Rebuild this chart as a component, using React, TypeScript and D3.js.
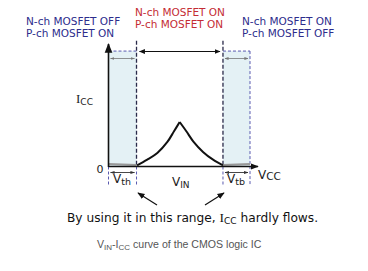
import React from "react";
import * as d3 from "d3";

// V_IN (fraction of Vcc) and Icc (relative)
const vinValues = [0.202, 0.274, 0.345, 0.416, 0.463, 0.503];
const iccRising = [0.01, 0.056, 0.111, 0.202, 0.29, 0.366];
const vinFalling = [0.503, 0.55, 0.6, 0.668, 0.739, 0.809];
const iccFalling = [0.366, 0.29, 0.205, 0.12, 0.056, 0.01];
// off-state leakage (tiny) inside the shaded ranges
const leakLeftX = [0, 0.198];
const leakLeftY = [0.02, 0.012];
const leakRightX = [0.809, 1];
const leakRightY = [0.012, 0.02];
// region boundaries (fraction of Vcc)
const vthLow = 0.198;
const vthHigh = 0.809;
const vcc = 1;
const boxTop = 0.95;
const dividerTop = 1.035;

const topLabels = [
  { lines: ["N-ch MOSFET OFF", "P-ch MOSFET ON"], x: 26, y: 25, color: "#2d2d8c" },
  { lines: ["N-ch MOSFET ON", "P-ch MOSFET ON"], x: 135, y: 16, color: "#c42c34" },
  { lines: ["N-ch MOSFET ON", "P-ch MOSFET OFF"], x: 242, y: 25, color: "#2d2d8c" },
];

export default function App() {
  const W = 368;
  const H = 271;
  const x = d3.scaleLinear().domain([0, 1]).range([108.5, 250]);
  const y = d3.scaleLinear().domain([0, 1]).range([166.5, 45]);
  const line = d3
    .line<[number, number]>()
    .x((d) => x(d[0]))
    .y((d) => y(d[1]))
    .curve(d3.curveCatmullRom.alpha(0.5));
  const rising = line(vinValues.map((v, i) => [v, iccRising[i]]) as [number, number][]);
  const falling = line(vinFalling.map((v, i) => [v, iccFalling[i]]) as [number, number][]);
  const lin = d3
    .line<[number, number]>()
    .x((d) => x(d[0]))
    .y((d) => y(d[1]));
  const leakL = lin(leakLeftX.map((v, i) => [v, leakLeftY[i]]) as [number, number][]);
  const leakR = lin(leakRightX.map((v, i) => [v, leakRightY[i]]) as [number, number][]);

  const x0 = x(0);
  const xl = x(vthLow);
  const xh = x(vthHigh);
  const xv = x(vcc);
  const yb = y(0);
  const yt = y(boxTop);
  const ydiv = y(dividerTop);
  const belowY = 186;
  const sans = "DejaVu Sans, Verdana, sans-serif";
  const blueDash = "#5a5ab0";
  const darkDash = "#2a2a4a";

  return (
    <svg
      width={W}
      height={H}
      style={{ position: "absolute", left: 0, top: 0, background: "#fff" }}
    >
      <defs>
        <marker id="ah" viewBox="0 0 10 10" refX="9" refY="5" markerWidth="6" markerHeight="6" orient="auto-start-reverse">
          <path d="M0,1 L10,5 L0,9 z" fill="#111" />
        </marker>
        <marker id="ahs" viewBox="0 0 10 10" refX="9" refY="5" markerWidth="5" markerHeight="5" orient="auto-start-reverse">
          <path d="M0,1.5 L10,5 L0,8.5 z" fill="#333" />
        </marker>
        <marker id="ahg" viewBox="0 0 10 10" refX="9" refY="5" markerWidth="5" markerHeight="5" orient="auto-start-reverse">
          <path d="M0,1.5 L10,5 L0,8.5 z" fill="#777" />
        </marker>
      </defs>
      <rect x={0} y={0} width={W} height={H} fill="#fff" />

      {/* shaded ranges */}
      <rect x={x0} y={yt} width={xl - x0} height={yb - yt} fill="#e4f1f5" />
      <rect x={xh} y={yt} width={xv - xh} height={yb - yt} fill="#e4f1f5" />

      {/* box top dashes */}
      <line x1={x0} y1={yt} x2={xl} y2={yt} stroke={blueDash} strokeWidth={1} strokeDasharray="3,2" />
      <line x1={xh} y1={yt} x2={xv} y2={yt} stroke={blueDash} strokeWidth={1} strokeDasharray="3,2" />
      <line x1={xv} y1={yt} x2={xv} y2={belowY} stroke={blueDash} strokeWidth={1} strokeDasharray="3,2" />

      {/* dividers */}
      <line x1={xl} y1={ydiv} x2={xl} y2={yb} stroke={darkDash} strokeWidth={1.3} strokeDasharray="4,2" />
      <line x1={xh} y1={ydiv} x2={xh} y2={yb} stroke={darkDash} strokeWidth={1.3} strokeDasharray="4,2" />

      {/* below-axis dashed ticks */}
      {[x0, xl, xh].map((px, i) => (
        <line key={i} x1={px} y1={yb} x2={px} y2={belowY} stroke={blueDash} strokeWidth={1} strokeDasharray="3,2" />
      ))}

      {/* small grey arrows in boxes */}
      <line x1={x0 + 2} y1={58.5} x2={xl - 2} y2={58.5} stroke="#777" strokeWidth={0.8} markerStart="url(#ahg)" markerEnd="url(#ahg)" />
      <line x1={xh + 2} y1={58.5} x2={xv - 2} y2={58.5} stroke="#777" strokeWidth={0.8} markerStart="url(#ahg)" markerEnd="url(#ahg)" />

      {/* top black arrow */}
      <line x1={xl + 3} y1={51.5} x2={xh - 3} y2={51.5} stroke="#111" strokeWidth={1} markerStart="url(#ah)" markerEnd="url(#ah)" />

      {/* leakage */}
      <path d={leakL || ""} fill="none" stroke="#999" strokeWidth={2} />
      <path d={leakR || ""} fill="none" stroke="#999" strokeWidth={2} />

      {/* axes */}
      <line x1={x0} y1={yb} x2={258} y2={yb} stroke="#111" strokeWidth={1.3} markerEnd="url(#ah)" />
      <line x1={x0} y1={yb + 0.5} x2={x0} y2={44} stroke="#111" strokeWidth={1.6} markerEnd="url(#ah)" />

      {/* curve */}
      <path d={rising || ""} fill="none" stroke="#111" strokeWidth={2} />
      <path d={falling || ""} fill="none" stroke="#111" strokeWidth={2} />

      {/* Vth arrows below axis */}
      <line x1={x0 + 2} y1={172.5} x2={xl - 2} y2={172.5} stroke="#333" strokeWidth={0.9} markerStart="url(#ahs)" markerEnd="url(#ahs)" />
      <line x1={xh + 2} y1={172.5} x2={xv - 2} y2={172.5} stroke="#333" strokeWidth={0.9} markerStart="url(#ahs)" markerEnd="url(#ahs)" />

      {/* diagonal pointers */}
      <line x1={157} y1={205} x2={138} y2={193} stroke="#111" strokeWidth={1.2} markerEnd="url(#ah)" />
      <line x1={205} y1={205} x2={224} y2={193} stroke="#111" strokeWidth={1.2} markerEnd="url(#ah)" />

      {/* top labels */}
      {topLabels.map((t, i) => (
        <text key={i} fontFamily={sans} fontSize={10.5} fill={t.color}>
          {t.lines.map((l, j) => (
            <tspan key={j} x={t.x} y={t.y + j * 11.5}>
              {l}
            </tspan>
          ))}
        </text>
      ))}

      {/* axis labels */}
      <text x={76} y={103} fill="#222">
        <tspan fontFamily="Liberation Serif, serif" fontSize={13}>I</tspan>
        <tspan fontFamily={sans} fontSize={9} dy={1.5}>CC</tspan>
      </text>
      <text x={100} y={173} fontFamily={sans} fontSize={11} fill="#222" textAnchor="middle">0</text>
      <text x={113} y={183} fontFamily={sans} fill="#222">
        <tspan fontSize={12}>V</tspan>
        <tspan fontSize={9.5} dy={1.5}>th</tspan>
      </text>
      <text x={227} y={183} fontFamily={sans} fill="#222">
        <tspan fontSize={12}>V</tspan>
        <tspan fontSize={9.5} dy={1.5}>tb</tspan>
      </text>
      <text x={172} y={186} fontFamily={sans} fill="#222">
        <tspan fontSize={12}>V</tspan>
        <tspan fontSize={9} dy={2}>IN</tspan>
      </text>
      <text x={258} y={179} fontFamily={sans} fill="#222">
        <tspan fontSize={12}>V</tspan>
        <tspan fontSize={10.5} dy={0.5}>CC</tspan>
      </text>

      {/* explanation */}
      <text x={67} y={222} fontFamily={sans} fontSize={12.2} fill="#111">
        <tspan>By using it in this range, </tspan>
        <tspan fontFamily="Liberation Serif, serif" fontSize={13.5}>I</tspan>
        <tspan fontSize={9} dy={2}>CC</tspan>
        <tspan dy={-2}> hardly flows.</tspan>
      </text>

      {/* caption */}
      <text x={97} y={248} fontFamily="Liberation Sans, Arial, sans-serif" fontSize={10.6} fill="#555">
        <tspan>V</tspan>
        <tspan fontSize={8} dy={1.5}>IN</tspan>
        <tspan dy={-1.5}>-I</tspan>
        <tspan fontSize={8} dy={1.5}>CC</tspan>
        <tspan dy={-1.5}> curve of the CMOS logic IC</tspan>
      </text>
    </svg>
  );
}
